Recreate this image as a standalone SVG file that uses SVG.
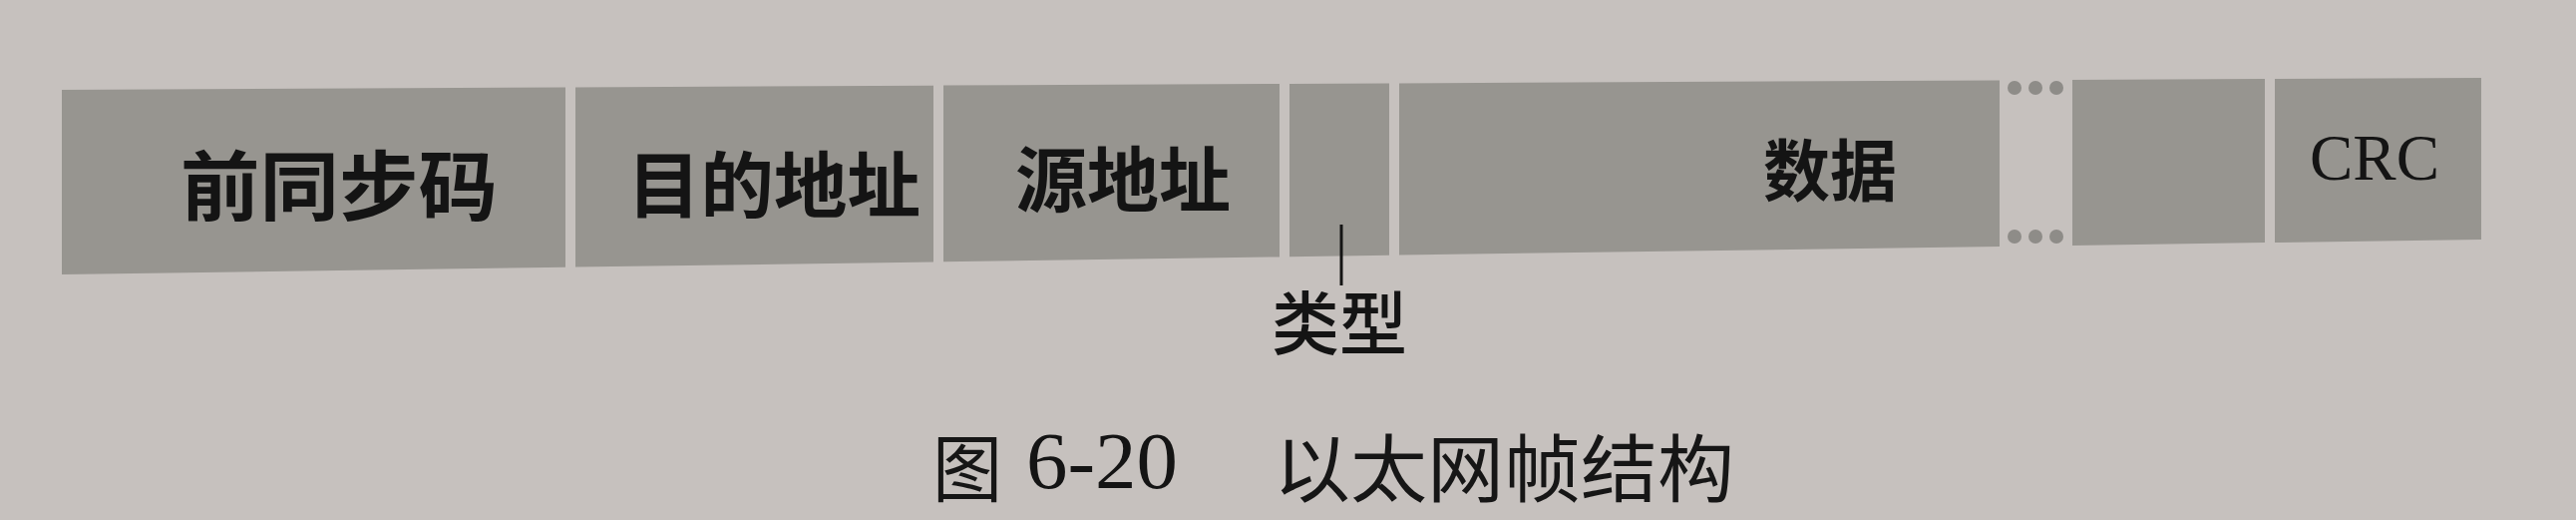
<svg xmlns="http://www.w3.org/2000/svg" width="2583" height="521" viewBox="0 0 2583 521">
<style>
.bg{fill:#c6c1be}
.box{fill:#979590}
.lbl{font-family:"Noto Sans CJK SC","Noto Sans",sans-serif;font-weight:700;fill:#141414;text-anchor:middle;dominant-baseline:central}
.sub{font-family:"Noto Sans CJK SC","Noto Sans",sans-serif;font-weight:500;fill:#141414;text-anchor:middle;dominant-baseline:central}
.lat{font-family:"Liberation Serif",serif;fill:#141414;text-anchor:middle}
.cap{font-family:"Noto Sans CJK SC","Noto Sans",sans-serif;font-weight:400;fill:#161616;text-anchor:middle;dominant-baseline:central}
.dot{fill:#8e8c88}
.lead{stroke:#141414;stroke-width:3;fill:none}
</style>
<rect class="bg" x="0" y="0" width="2583" height="521"/>
<g id="preamble">
<polygon class="box" points="62,90 567,87.5 567,267.7 62,275"/>
<text class="lbl" x="340" y="182" font-size="76" textLength="318" lengthAdjust="spacingAndGlyphs">前同步码</text>
</g>
<g id="dest-addr">
<polygon class="box" points="577,87.5 936,85.7 936,262.4 577,267.6"/>
<text class="lbl" x="776" y="180" font-size="72" textLength="294" lengthAdjust="spacingAndGlyphs">目的地址</text>
</g>
<g id="src-addr">
<polygon class="box" points="946,85.6 1283,84 1283,257.4 946,262.2"/>
<text class="lbl" x="1126" y="175" font-size="71" textLength="216" lengthAdjust="spacingAndGlyphs">源地址</text>
</g>
<g id="type">
<polygon class="box" points="1293,83.9 1393,83.4 1393,255.8 1293,257.2"/>
<text class="sub" x="1343" y="320" font-size="69" textLength="136" lengthAdjust="spacingAndGlyphs">类型</text>
</g>
<g id="data">
<polygon class="box" points="1403,83.4 2005,80.4 2005,247 1403,255.6"/>
<text class="lbl" x="1835" y="166" font-size="67" textLength="134" lengthAdjust="spacingAndGlyphs">数据</text>
</g>
<g id="gap">
<circle class="dot" cx="2020" cy="88" r="7"/>
<circle class="dot" cx="2041" cy="88" r="7"/>
<circle class="dot" cx="2062" cy="88" r="7"/>
<circle class="dot" cx="2020" cy="237" r="7"/>
<circle class="dot" cx="2041" cy="237" r="7"/>
<circle class="dot" cx="2062" cy="237" r="7"/>
</g>
<g id="field6">
<polygon class="box" points="2078,80 2271,79.1 2271,243.1 2078,245.9"/>
</g>
<g id="crc">
<polygon class="box" points="2281,79 2488,78 2488,240 2281,243"/>
<text class="lat" x="2381" y="180" font-size="66" textLength="130" lengthAdjust="spacingAndGlyphs">CRC</text>
</g>
<g id="connectors">
<line class="lead" x1="1345" y1="225" x2="1345" y2="286"/>
</g>
<g id="caption">
<text class="cap" x="970" y="464" font-size="74" textLength="70" lengthAdjust="spacingAndGlyphs">图</text>
<text class="lat" x="1105" y="489" font-size="80" textLength="152" lengthAdjust="spacingAndGlyphs">6-20</text>
<text class="cap" x="1508" y="464" font-size="74" textLength="462" lengthAdjust="spacingAndGlyphs">以太网帧结构</text>
</g>
</svg>
